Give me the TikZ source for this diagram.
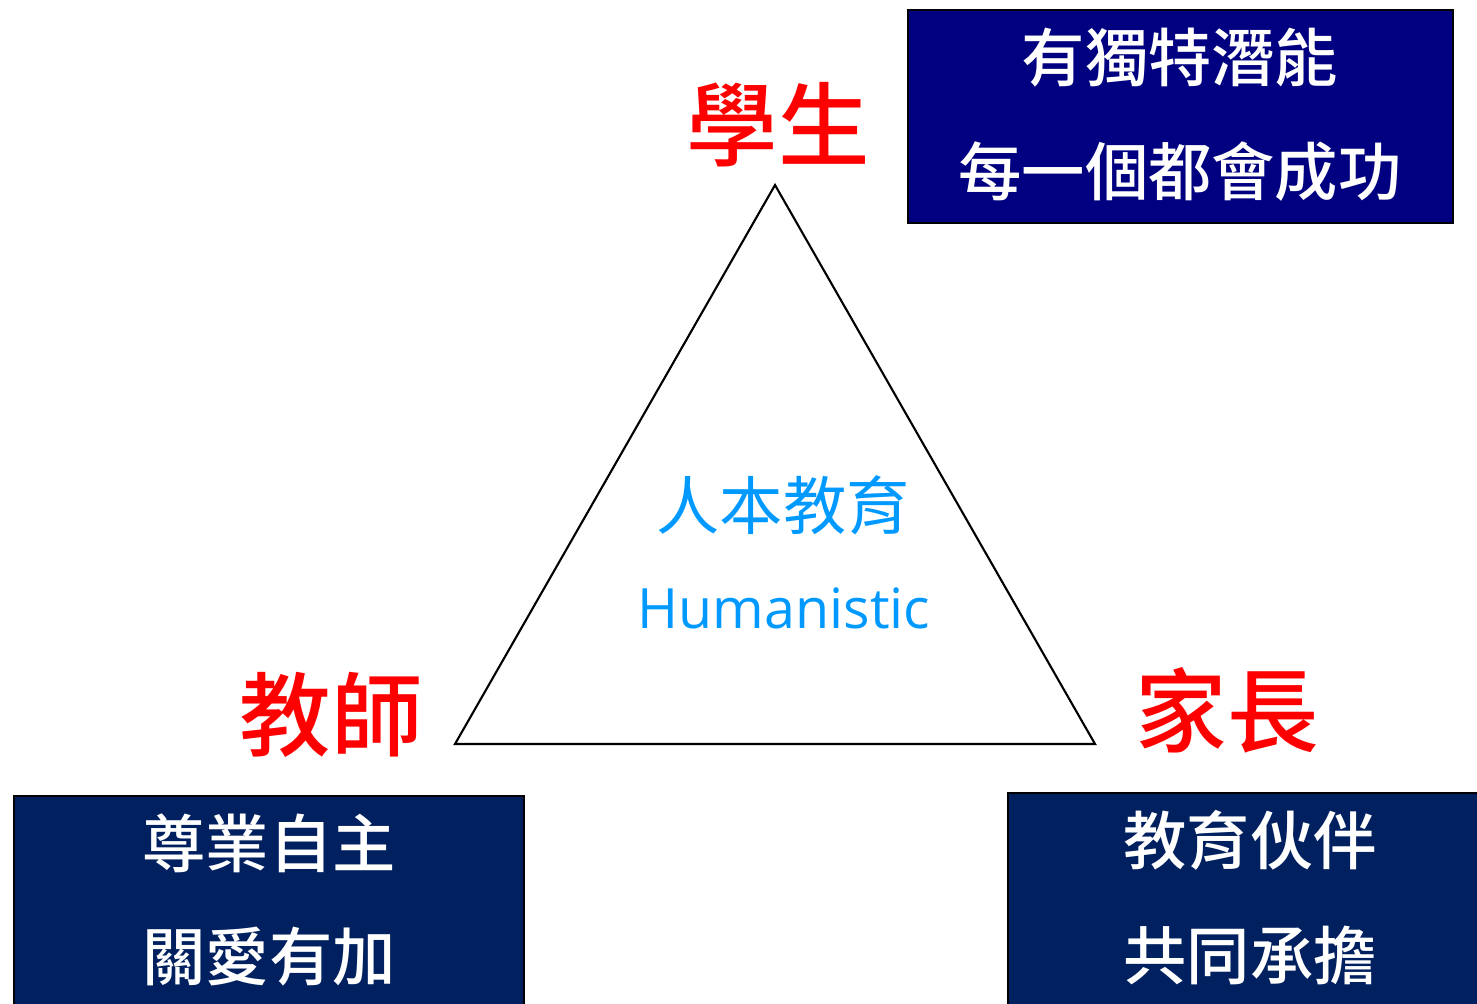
\documentclass[tikz,border=0pt]{standalone}
\usepackage{fontspec}
\setmainfont{Open Sans}
\newfontfamily\cjk{Noto Sans CJK TC}
\newfontfamily\cjkmed{Noto Sans CJK TC Medium}
\definecolor{topnavy}{HTML}{000080}
\definecolor{lownavy}{HTML}{002060}
\definecolor{skyblue}{HTML}{0099FF}
\tikzset{
  role/.style={text=red, font=\cjkmed\fontsize{26}{30}\selectfont},
  navybox/.style={draw=black, line width=0.5pt, anchor=north west, inner sep=0pt},
  boxtext/.style={text=white, font=\cjkmed\fontsize{18}{22}\selectfont},
  core/.style={text=skyblue, font=\fontsize{15.8}{20}\selectfont}
}
\begin{document}
\begin{tikzpicture}[x=0.01cm,y=-0.01cm]
	\useasboundingbox (0,0) rectangle (1477,1003);
	\clip (0,0) rectangle (1477,1003);
	\coordinate (apex) at (775,185);
	\coordinate (left) at (455,744);
	\coordinate (right) at (1095,744);
	\draw[line width=0.6pt] (apex) -- (left) -- (right) -- cycle;
	\node[core] (core1) at (783,505) {\cjk\fontsize{18}{22}\selectfont 人本教育};
	\node[core] (core2) at (784,608) {Humanistic};
	\node[role] (student) at (778,125) {學生};
	\node[role] (teacher) at (331,715) {教師};
	\node[role] (parent) at (1227,710) {家長};
	\node[navybox, fill=topnavy, minimum width=5.45cm, minimum height=2.13cm] (studentbox) at (907,9) {};
	\node[navybox, fill=lownavy, minimum width=5.10cm, minimum height=2.4cm] (teacherbox) at (13,795) {};
	\node[navybox, fill=lownavy, minimum width=4.86cm, minimum height=2.4cm] (parentbox) at (1007,792) {};
	\node[boxtext] (student1) at (1180,58) {有獨特潛能};
	\node[boxtext] (student2) at (1180,172) {每一個都會成功};
	\node[boxtext] (teacher1) at (269,843) {尊業自主};
	\node[boxtext] (teacher2) at (269,957) {關愛有加};
	\node[boxtext] (parent1) at (1250,840) {教育伙伴};
	\node[boxtext] (parent2) at (1250,955) {共同承擔};
\end{tikzpicture}
\end{document}
